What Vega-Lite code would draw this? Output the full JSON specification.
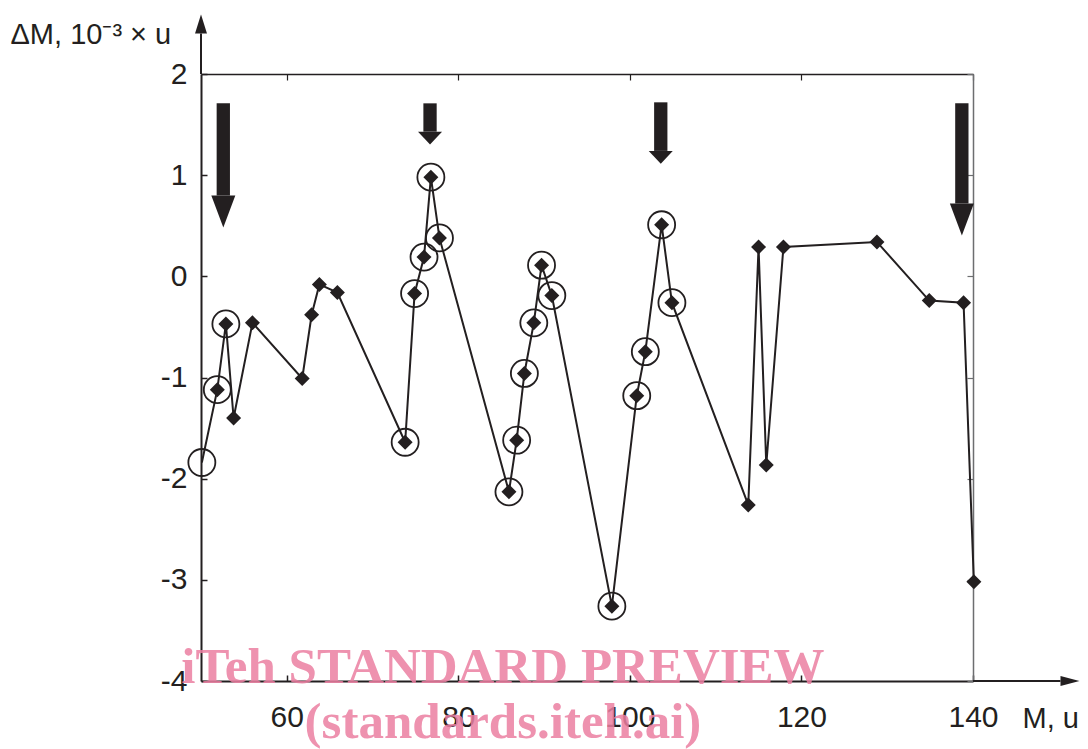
{
  "$schema": "https://vega.github.io/schema/vega-lite/v6.json",
  "width": 772,
  "height": 607,
  "autosize": "none",
  "padding": {"left": 201, "top": 74, "right": 115, "bottom": 68},
  "background": "white",
  "config": {
    "view": {"stroke": null},
    "font": "Liberation Sans",
    "axis": {
      "labelFont": "Liberation Sans",
      "titleFont": "Liberation Sans",
      "labelColor": "#231f20",
      "titleColor": "#231f20",
      "grid": false,
      "labelFlush": false,
      "labelOverlap": false,
      "domainColor": "#231f20",
      "tickColor": "#231f20"
    }
  },
  "datasets": {
    "masses": [
      {"M": 50.1, "dM": -1.84, "c": true, "d": false},
      {"M": 51.9, "dM": -1.12, "c": true, "d": true},
      {"M": 52.9, "dM": -0.47, "c": true, "d": true},
      {"M": 53.8, "dM": -1.4, "c": false, "d": true},
      {"M": 56.0, "dM": -0.46, "c": false, "d": true},
      {"M": 61.8, "dM": -1.01, "c": false, "d": true},
      {"M": 62.9, "dM": -0.38, "c": false, "d": true},
      {"M": 63.8, "dM": -0.08, "c": false, "d": true},
      {"M": 65.9, "dM": -0.16, "c": false, "d": true},
      {"M": 73.8, "dM": -1.64, "c": true, "d": true},
      {"M": 74.9, "dM": -0.17, "c": true, "d": true},
      {"M": 76.0, "dM": 0.19, "c": true, "d": true},
      {"M": 76.8, "dM": 0.98, "c": true, "d": true},
      {"M": 77.8, "dM": 0.38, "c": true, "d": true},
      {"M": 85.9, "dM": -2.13, "c": true, "d": true},
      {"M": 86.8, "dM": -1.62, "c": true, "d": true},
      {"M": 87.7, "dM": -0.96, "c": true, "d": true},
      {"M": 88.8, "dM": -0.46, "c": true, "d": true},
      {"M": 89.7, "dM": 0.11, "c": true, "d": true},
      {"M": 90.9, "dM": -0.19, "c": true, "d": true},
      {"M": 97.9, "dM": -3.26, "c": true, "d": true},
      {"M": 100.8, "dM": -1.18, "c": true, "d": true},
      {"M": 101.8, "dM": -0.745, "c": true, "d": true},
      {"M": 103.7, "dM": 0.51, "c": true, "d": true},
      {"M": 104.9, "dM": -0.26, "c": true, "d": true},
      {"M": 113.8, "dM": -2.26, "c": false, "d": true},
      {"M": 115.0, "dM": 0.29, "c": false, "d": true},
      {"M": 115.9, "dM": -1.865, "c": false, "d": true},
      {"M": 117.9, "dM": 0.29, "c": false, "d": true},
      {"M": 128.8, "dM": 0.34, "c": false, "d": true},
      {"M": 134.9, "dM": -0.24, "c": false, "d": true},
      {"M": 138.9, "dM": -0.26, "c": false, "d": true},
      {"M": 140.1, "dM": -3.02, "c": false, "d": true}
    ],
    "arrows": [
      {"M": 52.6, "top": 1.71, "base": 0.8, "head": "long"},
      {"M": 76.7, "top": 1.71, "base": 1.43, "head": "short"},
      {"M": 103.6, "top": 1.72, "base": 1.24, "head": "short"},
      {"M": 138.7, "top": 1.71, "base": 0.72, "head": "long"}
    ],
    "axisExt": [
      {"xa": 50, "ya": 2, "xb": 50, "yb": 2.4, "head": "up"},
      {"xa": 140, "ya": -4, "xb": 150.2, "yb": -4, "head": "right"}
    ],
    "watermark": [
      {"M": 85.2, "y": -4.02, "text": "iTeh STANDARD PREVIEW"},
      {"M": 85.2, "y": -4.56, "text": "(standards.iteh.ai)"}
    ]
  },
  "resolve": {"axis": {"x": "independent", "y": "independent"}, "scale": {"shape": "independent"}},
  "layer": [
    {
      "data": {"name": "masses"},
      "mark": {"type": "line", "color": "#231f20", "strokeWidth": 2},
      "encoding": {
        "x": {
          "field": "M", "type": "quantitative",
          "scale": {"domain": [50, 140], "nice": false, "zero": false},
          "axis": {
            "orient": "bottom", "values": [60, 80, 100, 120, 140],
            "tickSize": -6, "tickWidth": 1.5, "domainWidth": 2,
            "labelFontSize": 30, "labelPadding": 27, "labelExpr": "datum.value + ''",
            "title": "M, u", "titleFontSize": 29, "titleFontWeight": "normal",
            "titleX": 821, "titleY": 46, "titleAlign": "left", "titleBaseline": "alphabetic"
          }
        },
        "y": {
          "field": "dM", "type": "quantitative",
          "scale": {"domain": [-4, 2], "nice": false, "zero": false},
          "axis": {
            "orient": "left", "values": [-4, -3, -2, -1, 0, 1, 2],
            "tickSize": -6, "tickWidth": 1.5, "domainWidth": 2,
            "labelFontSize": 30, "labelPadding": 20, "labelExpr": "datum.value + ''",
            "title": "ΔM, 10⁻³ × u", "titleAngle": 0, "titleFontSize": 29, "titleFontWeight": "normal",
            "titleX": -191, "titleY": -31, "titleAlign": "left", "titleBaseline": "alphabetic"
          }
        }
      }
    },
    {
      "data": {"name": "arrows"},
      "mark": {"type": "rule", "color": "#231f20", "strokeWidth": 13.3, "strokeCap": "butt"},
      "encoding": {
        "x": {
          "field": "M", "type": "quantitative",
          "scale": {"domain": [50, 140], "nice": false, "zero": false},
          "axis": {"orient": "top", "values": [60, 80, 100, 120, 140], "labels": false, "tickSize": -6, "tickWidth": 1.2, "domainWidth": 1.5, "title": null}
        },
        "y": {
          "field": "top", "type": "quantitative",
          "scale": {"domain": [-4, 2], "nice": false, "zero": false},
          "axis": {"orient": "right", "values": [-4, -3, -2, -1, 0, 1, 2], "labels": false, "tickSize": -6, "tickWidth": 1.2, "domainWidth": 1.5, "domainColor": "#6d6e70", "tickColor": "#6d6e70", "title": null}
        },
        "y2": {"field": "base"}
      }
    },
    {
      "data": {"name": "arrows"},
      "mark": {"type": "point", "filled": true, "color": "#231f20", "size": 1024, "opacity": 1, "strokeWidth": 0},
      "encoding": {
        "x": {"field": "M", "type": "quantitative", "scale": {"domain": [50, 140], "nice": false, "zero": false}, "axis": null},
        "y": {"field": "base", "type": "quantitative", "scale": {"domain": [-4, 2], "nice": false, "zero": false}, "axis": null},
        "shape": {
          "field": "head", "type": "nominal",
          "scale": {"domain": ["long", "short"], "range": ["M-0.75,0L0.75,0L0,2Z", "M-0.75,0L0.75,0L0,0.8Z"]},
          "legend": null
        }
      }
    },
    {
      "data": {"name": "axisExt"},
      "mark": {"type": "rule", "color": "#231f20", "strokeWidth": 2},
      "encoding": {
        "x": {"field": "xa", "type": "quantitative", "scale": {"domain": [50, 140], "nice": false, "zero": false}, "axis": null},
        "x2": {"field": "xb"},
        "y": {"field": "ya", "type": "quantitative", "scale": {"domain": [-4, 2], "nice": false, "zero": false}, "axis": null},
        "y2": {"field": "yb"}
      }
    },
    {
      "data": {"name": "axisExt"},
      "mark": {"type": "point", "filled": true, "color": "#231f20", "size": 400, "opacity": 1, "strokeWidth": 0},
      "encoding": {
        "x": {"field": "xb", "type": "quantitative", "scale": {"domain": [50, 140], "nice": false, "zero": false}, "axis": null},
        "y": {"field": "yb", "type": "quantitative", "scale": {"domain": [-4, 2], "nice": false, "zero": false}, "axis": null},
        "shape": {
          "field": "head", "type": "nominal",
          "scale": {"domain": ["up", "right"], "range": ["M-0.6,0L0.6,0L0,-1.9Z", "M0,-0.5L0,0.5L1.9,0Z"]},
          "legend": null
        }
      }
    },
    {
      "data": {"name": "masses"},
      "transform": [{"filter": "datum.d"}],
      "mark": {"type": "point", "shape": "diamond", "filled": true, "color": "#231f20", "size": 225, "opacity": 1},
      "encoding": {
        "x": {"field": "M", "type": "quantitative", "scale": {"domain": [50, 140], "nice": false, "zero": false}, "axis": null},
        "y": {"field": "dM", "type": "quantitative", "scale": {"domain": [-4, 2], "nice": false, "zero": false}, "axis": null}
      }
    },
    {
      "data": {"name": "masses"},
      "transform": [{"filter": "datum.c"}],
      "mark": {"type": "point", "shape": "circle", "filled": false, "color": "#231f20", "size": 729, "strokeWidth": 1.8, "opacity": 1},
      "encoding": {
        "x": {"field": "M", "type": "quantitative", "scale": {"domain": [50, 140], "nice": false, "zero": false}, "axis": null},
        "y": {"field": "dM", "type": "quantitative", "scale": {"domain": [-4, 2], "nice": false, "zero": false}, "axis": null}
      }
    },
    {
      "data": {"name": "watermark"},
      "mark": {"type": "text", "font": "Liberation Serif", "fontWeight": "bold", "fontSize": 51, "align": "center", "baseline": "alphabetic", "color": "#ec7fa2", "opacity": 0.85},
      "encoding": {
        "x": {"field": "M", "type": "quantitative", "scale": {"domain": [50, 140], "nice": false, "zero": false}, "axis": null},
        "y": {"field": "y", "type": "quantitative", "scale": {"domain": [-4, 2], "nice": false, "zero": false}, "axis": null},
        "text": {"field": "text"}
      }
    }
  ]
}
